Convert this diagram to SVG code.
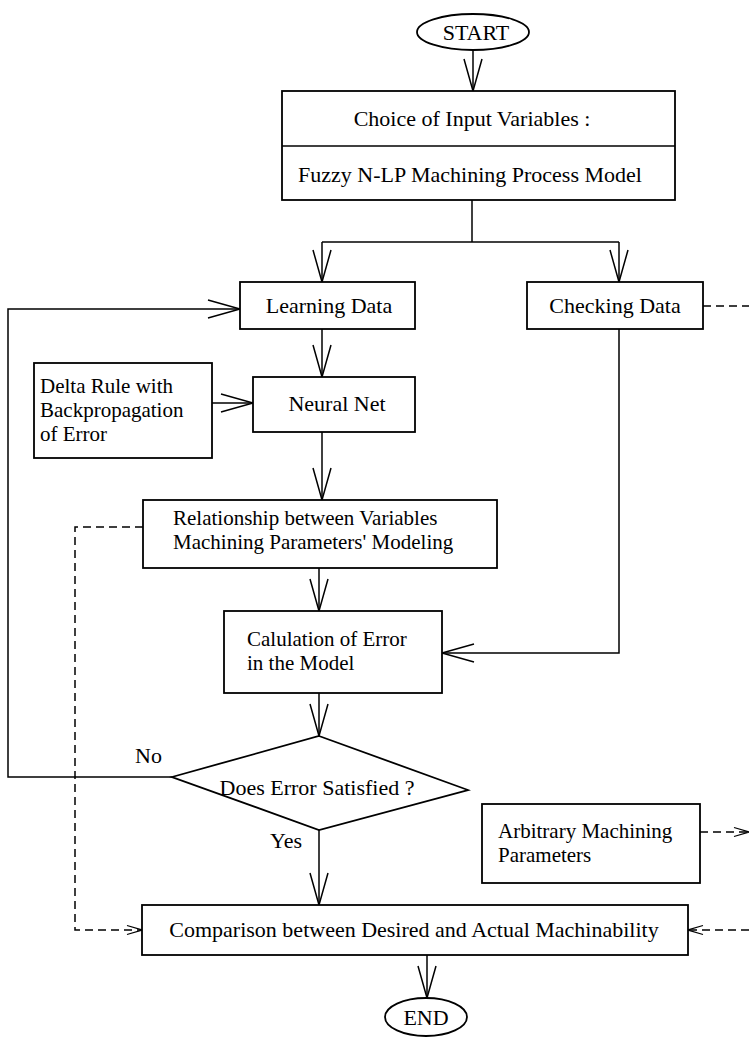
<svg xmlns="http://www.w3.org/2000/svg" width="749" height="1038" viewBox="0 0 749 1038">
<style>
.box{fill:#fff;stroke:#000;stroke-width:1.8}
.t{font-family:"Liberation Serif","Times New Roman",serif;font-size:22px;fill:#000}
.m{font-size:21px}
.c{text-anchor:middle}
.ln{fill:none;stroke:#000;stroke-width:1.5}
.ds{fill:none;stroke:#000;stroke-width:1.5;stroke-dasharray:8 5}
</style>
<defs>
<marker id="ah" markerUnits="userSpaceOnUse" markerWidth="34" markerHeight="22" viewBox="-33 -11 34 22" refX="0" refY="0" orient="auto">
<path d="M-32,-9 L0,0 L-32,9" fill="none" stroke="#000" stroke-width="1.5"/>
</marker>
<marker id="dah" markerUnits="userSpaceOnUse" markerWidth="18" markerHeight="12" viewBox="-17 -6 18 12" refX="0" refY="0" orient="auto">
<path d="M-15,-4.5 L0,0 L-15,4.5" fill="none" stroke="#000" stroke-width="1.3"/>
</marker>
</defs>

<g id="connectors">
<line class="ln" x1="473" y1="50" x2="473" y2="91" marker-end="url(#ah)"/>
<polyline class="ln" points="472,200 472,242"/>
<polyline class="ln" points="322,242 619,242"/>
<line class="ln" x1="322" y1="242" x2="322" y2="282" marker-end="url(#ah)"/>
<line class="ln" x1="619" y1="242" x2="619" y2="282" marker-end="url(#ah)"/>
<polyline class="ds" points="703,306 749,306"/>
<polyline class="ln" points="172,777 8,777 8,309 240,309" marker-end="url(#ah)"/>
<line class="ln" x1="322" y1="329" x2="322" y2="377" marker-end="url(#ah)"/>
<line class="ln" x1="212" y1="403" x2="253" y2="403" marker-end="url(#ah)"/>
<line class="ln" x1="322" y1="432" x2="322" y2="500" marker-end="url(#ah)"/>
<polyline class="ds" points="143,527 75,527 75,930 142,930" marker-end="url(#dah)"/>
<line class="ln" x1="319" y1="568" x2="319" y2="611" marker-end="url(#ah)"/>
<polyline class="ln" points="619,329 619,653 442,653" marker-end="url(#ah)"/>
<line class="ln" x1="319" y1="693" x2="319" y2="736" marker-end="url(#ah)"/>
<line class="ln" x1="319" y1="830" x2="319" y2="905" marker-end="url(#ah)"/>
<polyline class="ds" points="700,832 749,832" marker-end="url(#dah)"/>
<polyline class="ds" points="749,930 688,930" marker-end="url(#dah)"/>
<line class="ln" x1="427" y1="955" x2="427" y2="998" marker-end="url(#ah)"/>
<text class="t" x="135" y="763">No</text>
<text class="t" x="270" y="848">Yes</text>
</g>

<g id="start">
<ellipse class="box" cx="473" cy="32" rx="56" ry="18"/>
<text class="t c" x="476" y="40">START</text>
</g>

<g id="input">
<rect class="box" x="282" y="91" width="393" height="109"/>
<line class="ln" x1="282" y1="146" x2="675" y2="146"/>
<text class="t c" x="472" y="126">Choice of Input Variables :</text>
<text class="t c" x="470" y="182">Fuzzy N-LP Machining Process Model</text>
</g>

<g id="learning">
<rect class="box" x="240" y="282" width="175" height="47"/>
<text class="t c" x="329" y="313">Learning Data</text>
</g>

<g id="checking">
<rect class="box" x="527" y="282" width="176" height="47"/>
<text class="t c" x="615" y="313">Checking Data</text>
</g>

<g id="delta">
<rect class="box" x="34" y="363" width="178" height="95"/>
<text class="t m" x="40" y="393">Delta Rule with</text>
<text class="t m" x="40" y="417">Backpropagation</text>
<text class="t m" x="40" y="441">of Error</text>
</g>

<g id="neural">
<rect class="box" x="253" y="377" width="162" height="55"/>
<text class="t c" x="337" y="411">Neural Net</text>
</g>

<g id="relationship">
<rect class="box" x="143" y="500" width="354" height="68"/>
<text class="t m" x="173" y="525">Relationship between Variables</text>
<text class="t m" x="173" y="549">Machining Parameters' Modeling</text>
</g>

<g id="calculation">
<rect class="box" x="224" y="611" width="218" height="82"/>
<text class="t m" x="247" y="646">Calulation of Error</text>
<text class="t m" x="247" y="670">in the Model</text>
</g>

<g id="decision">
<polygon class="box" points="319,736 468,790 319,830 172,777"/>
<text class="t c" x="317" y="795">Does Error Satisfied ?</text>
</g>

<g id="arbitrary">
<rect class="box" x="482" y="804" width="218" height="79"/>
<text class="t m" x="498" y="838">Arbitrary Machining</text>
<text class="t m" x="498" y="862">Parameters</text>
</g>

<g id="comparison">
<rect class="box" x="142" y="905" width="546" height="50"/>
<text class="t c" x="414" y="937">Comparison between Desired and Actual Machinability</text>
</g>

<g id="end">
<ellipse class="box" cx="426" cy="1017" rx="41" ry="19"/>
<text class="t c" x="426" y="1025">END</text>
</g>
</svg>
